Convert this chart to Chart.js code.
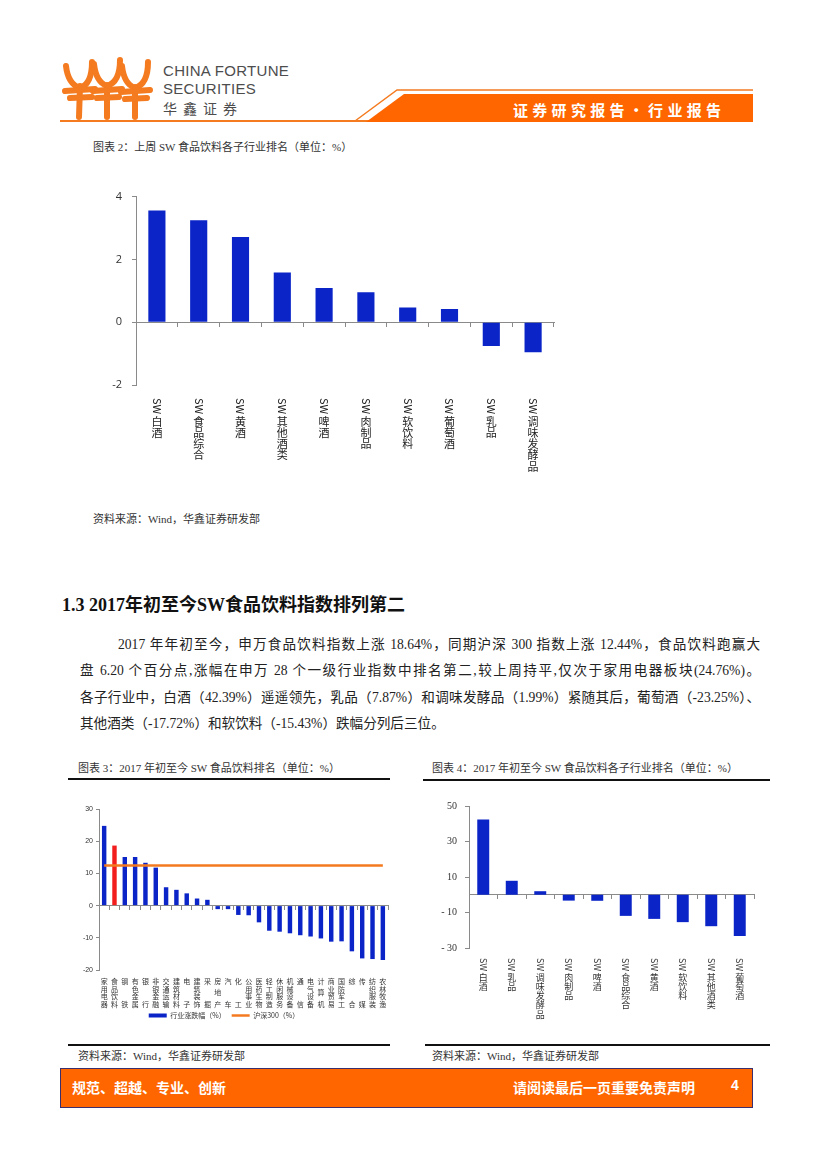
<!DOCTYPE html>
<html>
<head>
<meta charset="utf-8">
<script src="https://cdn.jsdelivr.net/npm/chart.js@4/dist/chart.umd.min.js"></script>
<style>
  body { margin: 0; background: #fff; }
  #page { position: relative; width: 827px; height: 1169px; overflow: hidden; background: #fff;
    font-family: "Liberation Serif", "Noto Sans CJK SC", serif; color: #222; }
  .abs { position: absolute; white-space: nowrap; }
  .cap { font-size: 11px; color: #333; }
  .rule { position: absolute; height: 2px; background: #111; }
  .para { position: absolute; left: 80px; width: 680px; font-size: 13.6px; white-space: nowrap;
    text-align: justify; text-align-last: justify; }
  canvas { position: absolute; }
</style>
</head>
<body>
<div id="page">
  <!-- header -->
  <svg class="abs" style="left:0;top:0" width="827" height="130">
    <g fill="none" stroke="#f47b20" stroke-width="6" stroke-linecap="round" stroke-linejoin="round">
      <path d="M66 66 Q68 84 80 88 Q92 84 92 62"/>
      <path d="M80 86 L79 117"/>
      <path d="M65 91 L95 89"/>
      <path d="M70 98 L92 97"/>
      <path d="M94 64 Q96 82 107 86 Q120 82 120 60"/>
      <path d="M107 85 L107 117"/>
      <path d="M93 91 L122 89"/>
      <path d="M97 98 L119 97"/>
      <path d="M122 66 Q124 84 135 88 Q148 84 148 62"/>
      <path d="M135 87 L135 117"/>
      <path d="M121 92 L150 90"/>
      <path d="M125 99 L147 98"/>
    </g>
    <line x1="60" y1="121" x2="370" y2="121" stroke="#f47b20" stroke-width="2"/>
    <polyline points="355,121 397,90 753,90" fill="none" stroke="#f47b20" stroke-width="1.5"/>
    <polygon points="404,94 753,94 753,122 366,122" fill="#ff6600"/>
  </svg>
  <div class="abs" style="left:163px;top:62px;font:15px 'Liberation Sans',sans-serif;color:#4d4d4d;letter-spacing:0.3px">CHINA FORTUNE</div>
  <div class="abs" style="left:163px;top:80px;font:15px 'Liberation Sans',sans-serif;color:#4d4d4d;letter-spacing:0.3px">SECURITIES</div>
  <div class="abs" style="left:163px;top:98px;font:14px 'Noto Sans CJK SC',sans-serif;color:#4d4d4d;letter-spacing:6px">华鑫证券</div>
  <div class="abs" style="left:513px;top:99px;font:bold 15px 'Noto Sans CJK SC',sans-serif;color:#fff;letter-spacing:4.3px">证券研究报告·行业报告</div>

  <!-- chart 2 -->
  <div class="abs cap" style="left:93px;top:138px">图表 2：上周 SW 食品饮料各子行业排名（单位：%）</div>
  <canvas id="chart2" width="490" height="300" style="left:80px;top:180px"></canvas>
  <div class="abs cap" style="left:93px;top:510px">资料来源：Wind，华鑫证券研发部</div>

  <!-- section text -->
  <div class="abs" style="left:62px;top:590px;font:bold 18px 'Liberation Serif','Noto Sans CJK SC',serif;color:#111">1.3 2017年初至今SW食品饮料指数排列第二</div>
  <div class="para" style="top:633px;left:118px;width:642px">2017 年年初至今，申万食品饮料指数上涨 18.64%，同期沪深 300 指数上涨 12.44%，食品饮料跑赢大</div>
  <div class="para" style="top:659px">盘 6.20 个百分点,涨幅在申万 28 个一级行业指数中排名第二,较上周持平,仅次于家用电器板块(24.76%)。</div>
  <div class="para" style="top:686px">各子行业中，白酒（42.39%）遥遥领先，乳品（7.87%）和调味发酵品（1.99%）紧随其后，葡萄酒（-23.25%）、</div>
  <div class="para" style="top:712px;text-align-last:left">其他酒类（-17.72%）和软饮料（-15.43%）跌幅分列后三位。</div>

  <!-- chart 3 -->
  <div class="abs cap" style="left:78px;top:759px">图表 3：2017 年初至今 SW 食品饮料排名（单位：%）</div>
  <div class="rule" style="left:68px;top:778px;width:322px"></div>
  <canvas id="chart3" width="335" height="245" style="left:60px;top:790px"></canvas>
  <div class="rule" style="left:68px;top:1044px;width:322px"></div>
  <div class="abs cap" style="left:78px;top:1047px">资料来源：Wind，华鑫证券研发部</div>

  <!-- chart 4 -->
  <div class="abs cap" style="left:432px;top:759px">图表 4：2017 年初至今 SW 食品饮料各子行业排名（单位：%）</div>
  <div class="rule" style="left:423px;top:779px;width:347px"></div>
  <canvas id="chart4" width="350" height="245" style="left:420px;top:790px"></canvas>
  <div class="rule" style="left:425px;top:1044px;width:345px"></div>
  <div class="abs cap" style="left:432px;top:1047px">资料来源：Wind，华鑫证券研发部</div>

  <!-- footer -->
  <div class="abs" style="left:60px;top:1068px;width:691px;height:38px;background:#ff6600;border:1px solid #3b2f6e"></div>
  <div class="abs" style="left:72px;top:1077px;font:bold 14px 'Noto Sans CJK SC',sans-serif;color:#fff">规范、超越、专业、创新</div>
  <div class="abs" style="left:513px;top:1077px;font:bold 14px 'Noto Sans CJK SC',sans-serif;color:#fff">请阅读最后一页重要免责声明</div>
  <div class="abs" style="left:731px;top:1077px;font:bold 14px 'Liberation Sans',sans-serif;color:#fff">4</div>
</div>

<script>
// 图表2：上周 SW 食品饮料各子行业涨跌幅（%）
const weekLabels = ["SW白酒", "SW食品综合", "SW黄酒", "SW其他酒类", "SW啤酒", "SW肉制品", "SW软饮料", "SW葡萄酒", "SW乳品", "SW调味发酵品"];
const weekValues = [3.56, 3.25, 2.71, 1.58, 1.09, 0.95, 0.47, 0.42, -0.76, -0.96];
const weekTicks = [-2, 0, 2, 4];

// 图表3：2017年初至今 申万一级行业涨跌幅（%）
const ytdLabels = ["家用电器", "食品饮料", "钢铁", "有色金属", "银行", "非银金融", "交通运输", "建筑材料", "电子", "建筑装饰", "采掘", "房地产", "汽车", "化工", "公用事业", "医药生物", "轻工制造", "休闲服务", "机械设备", "通信", "电气设备", "计算机", "商业贸易", "国防军工", "综合", "传媒", "纺织服装", "农林牧渔"];
const ytdValues = [24.76, 18.64, 15.1, 15.1, 13.3, 11.8, 5.7, 4.9, 3.8, 2.2, 1.8, -1.1, -1.1, -2.9, -3.0, -5.2, -7.8, -8.1, -8.6, -9.2, -9.6, -10.2, -11.2, -11.1, -14.2, -16.4, -16.6, -16.9];
const hs300Values = [12.44, 12.44, 12.44, 12.44, 12.44, 12.44, 12.44, 12.44, 12.44, 12.44, 12.44, 12.44, 12.44, 12.44, 12.44, 12.44, 12.44, 12.44, 12.44, 12.44, 12.44, 12.44, 12.44, 12.44, 12.44, 12.44, 12.44, 12.44];
const ytdTicks = [-20, -10, 0, 10, 20, 30];

// 图表4：2017年初至今 SW 食品饮料各子行业涨跌幅（%）
const subLabels = ["SW白酒", "SW乳品", "SW调味发酵品", "SW肉制品", "SW啤酒", "SW食品综合", "SW黄酒", "SW软饮料", "SW其他酒类", "SW葡萄酒"];
const subValues = [42.39, 7.87, 1.99, -3.3, -3.4, -11.9, -13.6, -15.43, -17.72, -23.25];
const subTicks = [-30, -10, 10, 30, 50];

const BLUE = "#0a24c8";
const AXIS = "#8a8a8a";

// 竖排的横轴标签：SW 旋转90度，汉字直立
const verticalLabels = {
  id: "verticalLabels",
  afterDraw(chart, args, opts) {
    const { ctx } = chart;
    const xs = chart.scales.x;
    ctx.save();
    ctx.fillStyle = opts.color;
    ctx.font = opts.font;
    ctx.textAlign = "center";
    ctx.textBaseline = "middle";
    chart.data.labels.forEach((label, i) => {
      const px = xs.getPixelForValue(i);
      let y = chart.chartArea.bottom + opts.offset;
      let text = label;
      if (text.startsWith("SW")) {
        const w = ctx.measureText("SW").width;
        ctx.save();
        ctx.translate(px, y + w / 2);
        ctx.rotate(Math.PI / 2);
        ctx.fillText("SW", 0, 0);
        ctx.restore();
        y += w + opts.pitch / 2 + 1.5;
        text = text.slice(2);
      } else {
        y += opts.pitch / 2;
      }
      const chars = Array.from(text);
      if (opts.spread) {
        // 四行等分排列
        const span = opts.pitch * (opts.spread - 1);
        chars.forEach((c, k) => {
          const cy = chars.length > 1 ? y + span * k / (chars.length - 1) : y;
          ctx.fillText(c, px, cy);
        });
      } else {
        chars.forEach((c, k) => ctx.fillText(c, px, y + k * opts.pitch));
      }
    });
    ctx.restore();
  }
};

function fixedTicks(list) {
  return (scale) => { scale.ticks = list.map((v) => ({ value: v })); };
}

function baseOptions(cfg) {
  return {
    responsive: false,
    animation: false,
    devicePixelRatio: 1,
    layout: { padding: cfg.padding },
    plugins: {
      legend: { display: false },
      tooltip: { enabled: false },
      verticalLabels: cfg.labels
    },
    scales: {
      x: {
        type: "category",
        position: { y: 0 },
        offset: true,
        grid: { display: true, offset: true, drawOnChartArea: false, drawTicks: true, tickLength: 4, color: AXIS },
        border: { display: true, color: AXIS, width: 1 },
        ticks: { display: false }
      },
      y: {
        min: cfg.ticks[0],
        max: cfg.ticks[cfg.ticks.length - 1],
        afterBuildTicks: fixedTicks(cfg.ticks),
        afterFit: (s) => { s.width = cfg.yWidth; },
        grid: { display: true, drawOnChartArea: false, drawTicks: true, tickLength: cfg.tickLen, color: AXIS },
        border: { display: true, color: AXIS, width: 1 },
        ticks: { color: "#333", font: cfg.tickFont, padding: cfg.tickPad, callback: cfg.tickFmt || ((v) => v) }
      }
    }
  };
}

// 图表2
new Chart(document.getElementById("chart2"), {
  type: "bar",
  data: {
    labels: weekLabels,
    datasets: [{ data: weekValues, backgroundColor: BLUE, barPercentage: 0.41, categoryPercentage: 1 }]
  },
  options: baseOptions({
    padding: { top: 14, right: 16, bottom: 95, left: 0 },
    ticks: weekTicks,
    yWidth: 56,
    tickLen: 4,
    tickPad: 10,
    tickFont: { family: "'Open Sans', 'Liberation Sans', sans-serif", size: 11 },
    labels: { font: "11px 'Noto Sans CJK SC', sans-serif", color: "#222", offset: 13, pitch: 11.3 }
  }),
  plugins: [verticalLabels]
});

// 图表3
const opts3 = baseOptions({
  padding: { top: 19, right: 7, bottom: 6, left: 0 },
  ticks: ytdTicks,
  yWidth: 39,
  tickLen: 3,
  tickPad: 3,
  tickFont: { family: "'Liberation Sans', sans-serif", size: 7 },
  labels: { font: "7px 'Noto Sans CJK SC', sans-serif", color: "#333", offset: 7.5, pitch: 7.6, spread: 4 }
});
opts3.scales.x2 = {
  type: "category",
  position: "bottom",
  grid: { display: false },
  border: { display: false },
  ticks: { display: false },
  afterFit: (s) => { s.height = 36; }
};
opts3.plugins.legend = {
  display: true,
  position: "bottom",
  labels: {
    usePointStyle: true, pointStyleWidth: 18, boxHeight: 4, padding: 6, color: "#333",
    font: { family: "'Noto Sans CJK SC', sans-serif", size: 7 },
    sort: (a, b) => a.datasetIndex - b.datasetIndex
  }
};
new Chart(document.getElementById("chart3"), {
  type: "bar",
  data: {
    labels: ytdLabels,
    datasets: [
      {
        label: "行业涨跌幅（%）",
        data: ytdValues,
        backgroundColor: ytdLabels.map((l) => (l === "食品饮料" ? "#f21d1d" : BLUE)),
        pointStyle: "rect",
        barPercentage: 0.43, categoryPercentage: 1, order: 2
      },
      {
        type: "line",
        label: "沪深300（%）",
        data: hs300Values,
        borderColor: "#f47a20", backgroundColor: "#f47a20",
        borderWidth: 2.5, pointRadius: 0, pointStyle: "line", order: 1
      }
    ]
  },
  options: opts3,
  plugins: [verticalLabels]
});

// 图表4
new Chart(document.getElementById("chart4"), {
  type: "bar",
  data: {
    labels: subLabels,
    datasets: [{ data: subValues, backgroundColor: BLUE, barPercentage: 0.42, categoryPercentage: 1 }]
  },
  options: baseOptions({
    padding: { top: 16, right: 16, bottom: 87, left: 0 },
    ticks: subTicks,
    yWidth: 49,
    tickLen: 4,
    tickPad: 8,
    tickFont: { family: "'Liberation Serif', serif", size: 10 },
    tickFmt: (v) => (v < 0 ? "- " + Math.abs(v) : v),
    labels: { font: "9px 'Noto Sans CJK SC', sans-serif", color: "#333", offset: 10, pitch: 9.2 }
  }),
  plugins: [verticalLabels]
});
</script>
</body>
</html>
